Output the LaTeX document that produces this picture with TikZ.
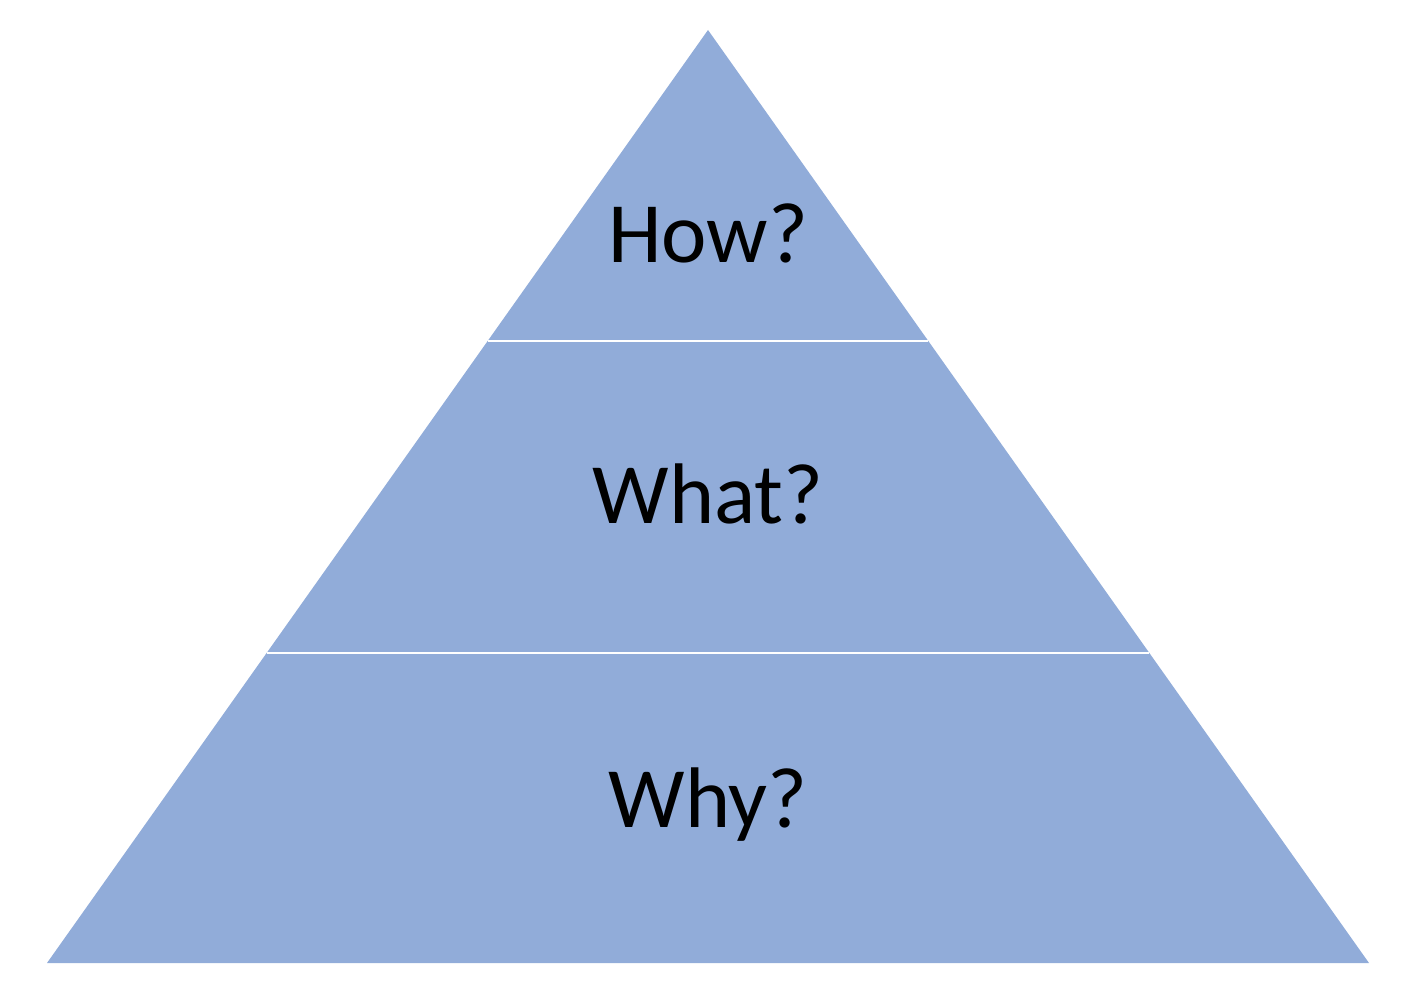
\documentclass[tikz,border=0pt]{standalone}
\usepackage{fontspec}
\setmainfont{Carlito}
\definecolor{pyr}{HTML}{91ACD9}
\begin{document}
\begin{tikzpicture}[x=1pt,y=-1pt,lbl/.style={font=\fontsize{86}{90}\selectfont,text=black}]
\useasboundingbox (0,0) rectangle (1427,992);
\coordinate (A) at (708,30);
\coordinate (L) at (47,963);
\coordinate (R) at (1369,963);
\fill[pyr] (A) -- (L) -- (R) -- cycle;
\coordinate (l1) at (488.3,341);
\coordinate (r1) at (928.2,341);
\coordinate (l2) at (267.2,653);
\coordinate (r2) at (1149.4,653);
\draw[white,line width=2] (l1) -- (r1);
\draw[white,line width=2] (l2) -- (r2);
\node[lbl] (how) at (708,233) {How?};
\node[lbl] (what) at (708,494) {What?};
\node[lbl] (why) at (708,805) {Why?};
\end{tikzpicture}
\end{document}
